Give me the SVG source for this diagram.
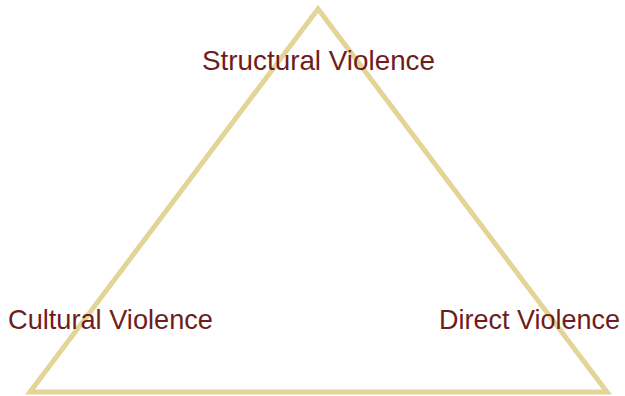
<svg xmlns="http://www.w3.org/2000/svg" width="625" height="396" viewBox="0 0 625 396">
<style>
.lbl{font-family:"Liberation Sans",Arial,sans-serif;font-size:28px;fill:#6F1C1C}
.edge{fill:none;stroke:#E3D597;stroke-width:5;stroke-linejoin:miter}
</style>
<rect width="625" height="396" fill="#FFFFFF"/>
<g id="connectors">
<polygon class="edge" points="318,9 30,392 607,392"/>
</g>
<g id="node-structural"><text class="lbl" x="202" y="70" textLength="233" lengthAdjust="spacingAndGlyphs">Structural Violence</text></g>
<g id="node-cultural"><text class="lbl" x="8" y="329" textLength="205" lengthAdjust="spacingAndGlyphs">Cultural Violence</text></g>
<g id="node-direct"><text class="lbl" x="439" y="329" style="font-size:27px">Direct Violence</text></g>
</svg>
